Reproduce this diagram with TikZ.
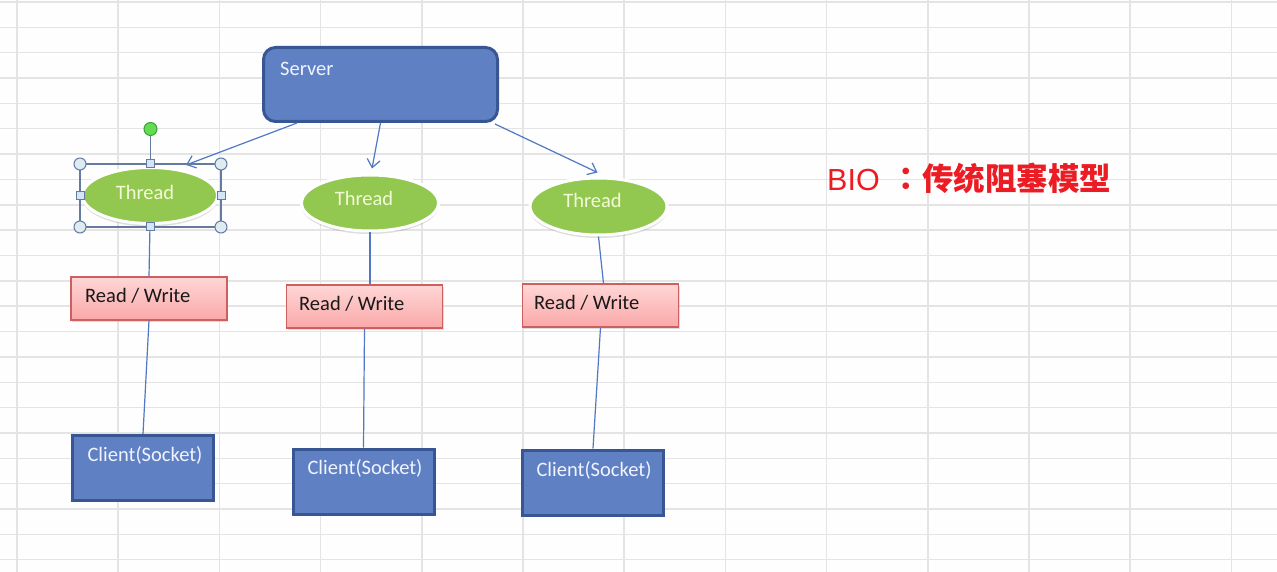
\documentclass[tikz,border=0pt]{standalone}
\usepackage{fontspec}
\setmainfont{Carlito}
\newfontfamily\cjkf{Noto Sans CJK SC}
\newfontfamily\cjktc{Noto Sans CJK TC}
\newfontfamily\arialf{Liberation Sans}
\usetikzlibrary{arrows.meta,shadows,calc,shapes.geometric}
\definecolor{gridc}{RGB}{228,228,228}
\definecolor{bgc}{RGB}{253,254,253}
\definecolor{boxblue}{RGB}{96,128,196}
\definecolor{boxedge}{RGB}{56,86,148}
\definecolor{boxtext}{RGB}{240,244,255}
\definecolor{thgreen}{RGB}{146,200,80}
\definecolor{thtext}{RGB}{242,250,215}
\definecolor{rwedge}{RGB}{205,95,95}
\definecolor{rwtop}{RGB}{255,214,214}
\definecolor{rwbot}{RGB}{250,168,168}
\definecolor{rwtext}{RGB}{25,25,25}
\definecolor{linkc}{RGB}{80,120,196}
\definecolor{titlered}{RGB}{236,28,36}
\definecolor{selc}{RGB}{100,122,160}
\definecolor{selfill}{RGB}{222,236,242}
\definecolor{selsq}{RGB}{210,230,248}
\definecolor{rotfill}{RGB}{100,220,80}
\definecolor{rotedge}{RGB}{60,160,60}
\begin{document}
\begin{tikzpicture}[x=1pt,y=-1pt,font=\fontsize{20.5}{24}\selectfont,
  serverbox/.style={draw=boxedge,line width=3pt,fill=boxblue,rounded corners=12pt,
    minimum width=234pt,minimum height=74pt,inner sep=0pt},
  clientbox/.style={draw=boxedge,line width=3pt,fill=boxblue,
    minimum width=141pt,minimum height=65pt,inner sep=0pt},
  rwbox/.style={draw=rwedge,line width=1.2pt,top color=rwtop,bottom color=rwbot,
    minimum width=156pt,minimum height=43pt,inner sep=0pt,
    drop shadow={opacity=0.25,shadow xshift=1pt,shadow yshift=-2pt}},
  thbox/.style={ellipse,draw=white,line width=3pt,fill=thgreen,inner sep=0pt,
    drop shadow={opacity=0.25,shadow xshift=0pt,shadow yshift=-3pt}},
  boxlabel/.style={text=boxtext,inner sep=0pt},
  thlabel/.style={text=thtext,inner sep=0pt,anchor=base},
  rwlabel/.style={text=rwtext,inner sep=0pt,anchor=base west},
  link/.style={draw=linkc,line width=1.2pt},
  arr/.style={link,-{Straight Barb[length=8pt,width=13pt,line width=1.2pt]}},
  gridline/.style={draw=gridc,line width=1.5pt},
  handle/.style={circle,draw=selc,fill=selfill,line width=1pt,minimum size=12pt,inner sep=0pt},
  sqhandle/.style={rectangle,draw=selc,fill=selsq,line width=1pt,minimum size=8pt,inner sep=0pt}
]
\useasboundingbox (0,0) rectangle (1277,572);
\fill[bgc] (0,0) rectangle (1277,572);
% spreadsheet grid
\foreach \k in {0,...,12} \draw[gridline] ({17+101.2*\k},0) -- ({17+101.2*\k},572);
\foreach \k in {0,...,22} \draw[gridline] (0,{2+25.35*\k}) -- (1277,{2+25.35*\k});

% server
\node[serverbox] (srv) at (380.5,84.5) {};
\node[boxlabel,anchor=base west] (srvt) at (280,76) {Server};

% threads
\node[thbox,minimum width=135pt,minimum height=56pt] (t1) at (150,195.5) {};
\node[thbox,minimum width=137pt,minimum height=56pt] (t2) at (370,203) {};
\node[thbox,minimum width=137pt,minimum height=57pt] (t3) at (598.5,206.5) {};
\node[thlabel] (t1t) at (145,200) {Thread};
\node[thlabel] (t2t) at (364,205.5) {Thread};
\node[thlabel] (t3t) at (592.5,208) {Thread};

% read/write
\node[rwbox] (rw1) at (149,298.5) {};
\node[rwbox] (rw2) at (364.5,306.5) {};
\node[rwbox] (rw3) at (600.5,305.5) {};
\node[rwlabel] (rw1t) at (85,302) {Read / Write};
\node[rwlabel] (rw2t) at (299,310.5) {Read / Write};
\node[rwlabel] (rw3t) at (534,309) {Read / Write};

% clients
\node[clientbox] (c1) at (143,468) {};
\node[clientbox] (c2) at (363.5,481.5) {};
\node[clientbox] (c3) at (593,482.5) {};
\node[boxlabel,anchor=base] (c1t) at (145,461.5) {Client(Socket)};
\node[boxlabel,anchor=base] (c2t) at (365,474) {Client(Socket)};
\node[boxlabel,anchor=base] (c3t) at (594,476) {Client(Socket)};

% connectors
\draw[arr] ([xshift=35pt]srv.south west) -- ([xshift=36pt,yshift=1pt]t1.north);
\draw[arr] (srv.south) -- ([xshift=2pt,yshift=5pt]t2.north);
\draw[arr] ([xshift=-4pt,yshift=-1pt]srv.south east) -- ([xshift=-1pt,yshift=4pt]t3.north);
\draw[link] (t1.south) -- (rw1.north);
\draw[link] (rw1.south) -- (c1.north);
\draw[link] (t2.south) -- (t2.south |- rw2.north);
\draw[link] (rw2.south) -- (c2.north);
\draw[link] (t3.south) -- ([xshift=3pt]rw3.north);
\draw[link] (rw3.south) -- (c3.north);

% selection handles around first thread
\draw[selc,line width=1.2pt] (80,164) rectangle (221,227);
\draw[selc,line width=1.2pt] (150.5,164) -- (150.5,135);
\node[circle,draw=rotedge,fill=rotfill,line width=1pt,minimum size=13pt,inner sep=0pt] (rot) at (150.5,129) {};
\node[handle] (h1) at (80,164) {};
\node[handle] (h2) at (221,164) {};
\node[handle] (h3) at (80,227) {};
\node[handle] (h4) at (221,227) {};
\node[sqhandle] (s1) at (150.5,164) {};
\node[sqhandle] (s2) at (150.5,227) {};
\node[sqhandle] (s3) at (80,195.5) {};
\node[sqhandle] (s4) at (221,195.5) {};

% title
\node[anchor=base west,text=titlered,inner sep=0pt] (title) at (827,191)
  {{\arialf\fontsize{30.5}{36}\selectfont BIO}\hspace*{11pt}{\cjktc\bfseries\fontsize{31.5}{36}\selectfont ：}{\cjkf\bfseries\fontsize{31.5}{36}\selectfont 传统阻塞模型}};
\end{tikzpicture}
\end{document}
